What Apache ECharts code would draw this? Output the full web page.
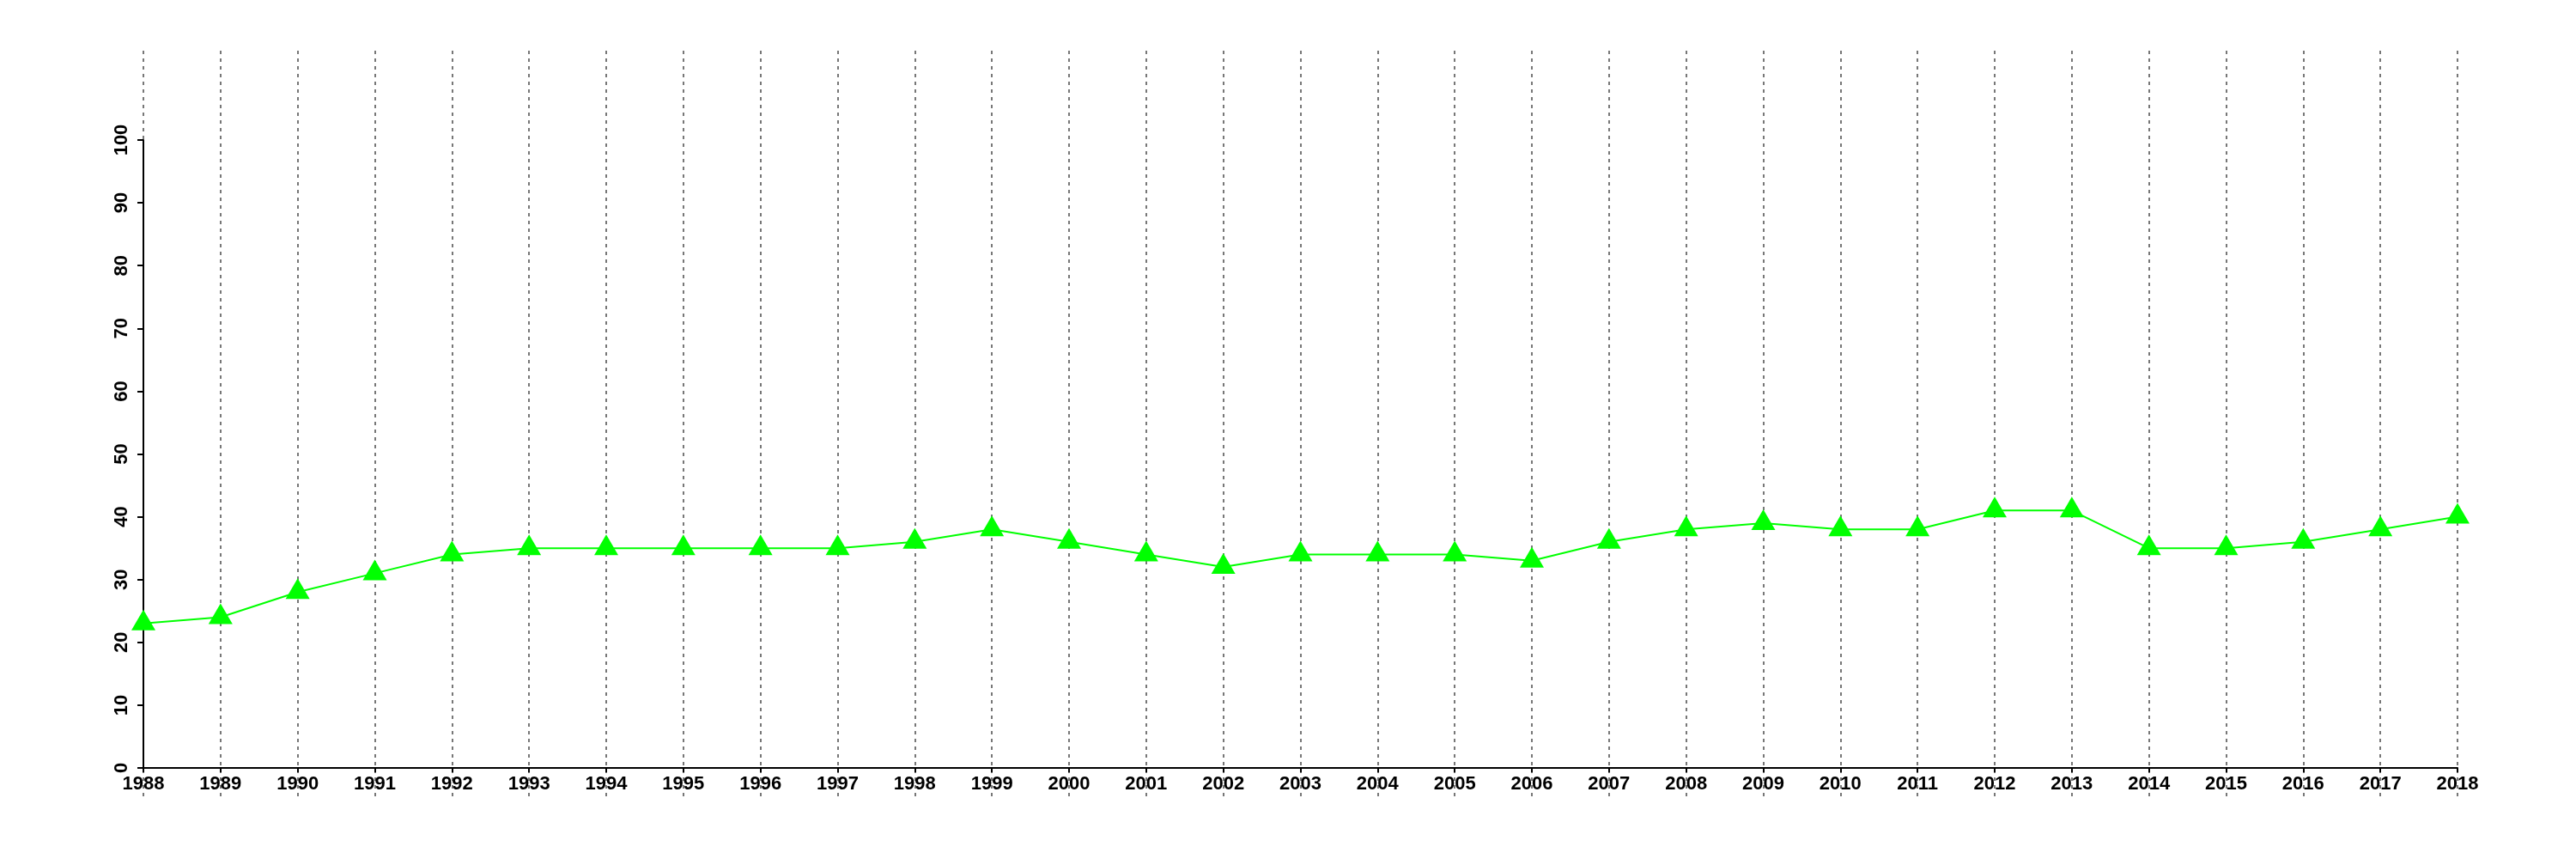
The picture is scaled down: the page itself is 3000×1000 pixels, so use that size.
<!DOCTYPE html>
<html>
<head>
<meta charset="utf-8">
<script src="https://cdn.jsdelivr.net/npm/echarts@6/dist/echarts.min.js"></script>
<style>
html,body{margin:0;padding:0;background:#fff;}
#chart{width:3000px;height:1000px;}
</style>
</head>
<body>
<div id="chart"></div>
<script>
const years = ['1988','1989','1990','1991','1992','1993','1994','1995','1996','1997','1998','1999','2000','2001','2002','2003','2004','2005','2006','2007','2008','2009','2010','2011','2012','2013','2014','2015','2016','2017','2018'];
const values = [23,24,28,31,34,35,35,35,35,35,36,38,36,34,32,34,34,34,33,36,38,39,38,38,41,41,35,35,36,38,40];
const yMin = 0, yMax = 100, yStep = 10;

const chart = echarts.init(document.getElementById('chart'));
const font = 'Liberation Sans, Arial, sans-serif';
chart.setOption({
  animation: false,
  backgroundColor: '#ffffff',
  grid: [
    {left: 167, right: 138, top: 163, bottom: 106, containLabel: false},
    {left: 167, right: 138, top: 59, bottom: 73, containLabel: false}
  ],
  xAxis: [
    {
      gridIndex: 0, type: 'category', data: years, boundaryGap: false,
      axisLine: {show: true, lineStyle: {color: '#000', width: 2}},
      axisTick: {show: true, length: 5, lineStyle: {color: '#000', width: 2}, alignWithLabel: true},
      axisLabel: {show: true, interval: 0, margin: 8, color: '#000', fontSize: 22, fontWeight: 'bold', fontFamily: font},
      splitLine: {show: false}
    },
    {
      gridIndex: 1, type: 'category', data: years, boundaryGap: false,
      axisLine: {show: false}, axisTick: {show: false}, axisLabel: {show: false},
      splitLine: {show: true, interval: 0, lineStyle: {color: '#777', width: 2, type: [4, 5]}}
    }
  ],
  yAxis: [
    {
      gridIndex: 0, type: 'value', min: yMin, max: yMax, interval: yStep,
      axisLine: {show: true, lineStyle: {color: '#000', width: 2}},
      axisTick: {show: true, length: 7, lineStyle: {color: '#000', width: 2}},
      axisLabel: {show: true, rotate: 90, margin: 14, color: '#000', fontSize: 22, fontWeight: 'bold', fontFamily: font},
      splitLine: {show: false}
    },
    {
      gridIndex: 1, type: 'value', min: 0, max: 1,
      axisLine: {show: false}, axisTick: {show: false}, axisLabel: {show: false}, splitLine: {show: false}
    }
  ],
  series: [{
    type: 'line', xAxisIndex: 0, yAxisIndex: 0, data: values,
    lineStyle: {color: '#00ff00', width: 2},
    itemStyle: {color: '#00ff00'},
    symbol: 'triangle', symbolSize: [28, 24], symbolOffset: [0, -4],
    showAllSymbol: true, z: 5
  }]
});
</script>
</body>
</html>
